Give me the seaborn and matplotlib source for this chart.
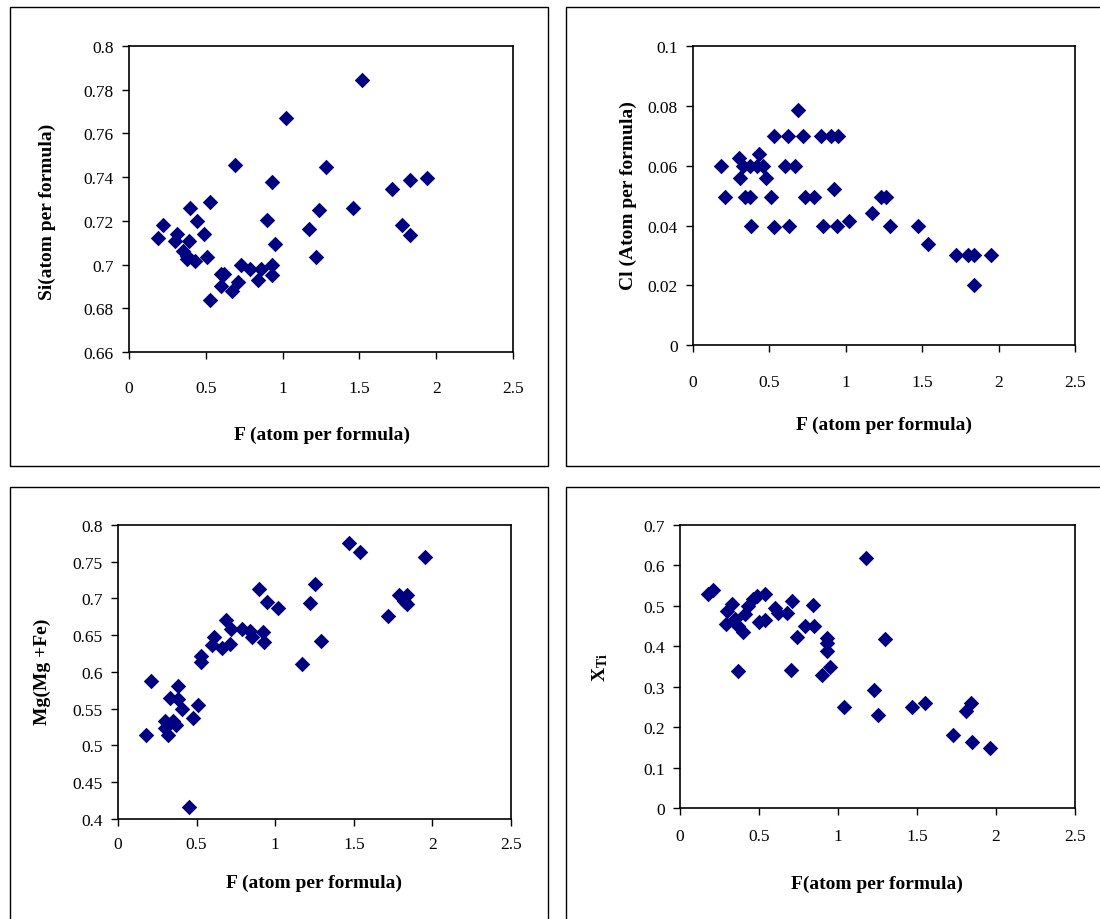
import matplotlib
matplotlib.use("Agg")
import matplotlib.pyplot as plt
from matplotlib.patches import Rectangle
import seaborn as sns
import pandas as pd

# F content vs Si (atoms per formula unit)
f_si = [0.19, 0.22, 0.40, 0.53, 0.44, 0.49, 0.31, 0.30, 0.39, 0.35, 0.38, 0.43, 0.38,
        0.51, 0.62, 0.60, 0.60, 0.53, 0.67, 0.71, 0.73, 0.79, 0.84, 0.86, 0.93, 0.93,
        0.90, 0.95, 1.17, 1.22, 1.24, 1.02, 0.69, 0.93, 1.28, 1.52, 1.46, 1.71, 1.83,
        1.94, 1.78, 1.83]
si = [0.712, 0.718, 0.726, 0.7285, 0.720, 0.714, 0.714, 0.711, 0.711, 0.706, 0.7026,
      0.7018, 0.704, 0.7033, 0.6957, 0.6957, 0.690, 0.684, 0.688, 0.692, 0.700, 0.698,
      0.693, 0.698, 0.700, 0.6954, 0.7205, 0.7094, 0.7163, 0.7033, 0.725, 0.767, 0.7456,
      0.7378, 0.7448, 0.7843, 0.7259, 0.7346, 0.7388, 0.7397, 0.7182, 0.7137]

# F content vs Cl
f_cl = [0.69, 0.53, 0.62, 0.72, 0.84, 0.90, 0.95, 0.43, 0.30, 0.18, 0.33, 0.37, 0.42,
        0.46, 0.60, 0.67, 0.31, 0.48, 0.92, 0.21, 0.34, 0.37, 0.51, 0.73, 0.79, 1.23,
        1.26, 1.17, 0.38, 0.53, 0.63, 0.85, 0.94, 1.02, 1.29, 1.47, 1.54, 1.72, 1.80,
        1.84, 1.95, 1.84]
cl = [0.0787, 0.070, 0.070, 0.070, 0.070, 0.070, 0.070, 0.064, 0.0626, 0.060, 0.060,
      0.060, 0.060, 0.060, 0.060, 0.060, 0.056, 0.056, 0.0522, 0.0495, 0.0495, 0.0495,
      0.0495, 0.0495, 0.0495, 0.0495, 0.0495, 0.0441, 0.040, 0.0394, 0.040, 0.040,
      0.040, 0.0414, 0.040, 0.040, 0.0339, 0.030, 0.030, 0.030, 0.030, 0.020]

# F content vs Mg/(Mg+Fe)
f_mg = [0.90, 0.95, 1.02, 1.25, 1.22, 0.69, 0.72, 0.79, 0.84, 0.85, 0.92, 0.93, 0.61,
        0.60, 0.66, 0.71, 0.53, 0.53, 1.17, 0.21, 0.38, 0.33, 0.38, 0.51, 0.41, 0.48,
        0.30, 0.35, 0.37, 0.30, 0.32, 0.18, 0.45, 1.47, 1.54, 1.95, 1.79, 1.84, 1.84,
        1.82, 1.72, 1.29]
mg = [0.713, 0.695, 0.687, 0.720, 0.694, 0.670, 0.658, 0.658, 0.656, 0.647, 0.654,
      0.641, 0.647, 0.636, 0.633, 0.638, 0.622, 0.613, 0.610, 0.588, 0.580, 0.564,
      0.563, 0.555, 0.549, 0.537, 0.533, 0.533, 0.528, 0.524, 0.514, 0.514, 0.416,
      0.776, 0.763, 0.757, 0.704, 0.705, 0.692, 0.697, 0.676, 0.642]

# F content vs X_Ti
f_ti = [1.18, 0.18, 0.21, 0.33, 0.30, 0.29, 0.35, 0.37, 0.40, 0.43, 0.46, 0.49, 0.54,
        0.41, 0.50, 0.54, 0.60, 0.62, 0.68, 0.71, 0.79, 0.85, 0.84, 0.74, 0.93, 0.93,
        0.93, 0.37, 0.70, 0.95, 0.90, 1.04, 1.23, 1.25, 1.30, 1.47, 1.55, 1.84, 1.81,
        1.73, 1.85, 1.96]
xti = [0.618, 0.529, 0.539, 0.504, 0.488, 0.455, 0.467, 0.451, 0.434, 0.500, 0.517,
       0.523, 0.529, 0.480, 0.459, 0.466, 0.494, 0.482, 0.481, 0.511, 0.451, 0.449,
       0.501, 0.424, 0.420, 0.408, 0.389, 0.338, 0.342, 0.348, 0.330, 0.251, 0.293,
       0.231, 0.418, 0.251, 0.260, 0.260, 0.239, 0.181, 0.163, 0.148]

x_ticks = [0, 0.5, 1, 1.5, 2, 2.5]

sns.set_theme(style="white")
plt.rcParams["font.family"] = ["Liberation Serif", "DejaVu Serif"]
plt.rcParams["mathtext.fontset"] = "custom"
plt.rcParams["mathtext.rm"] = "Liberation Serif"
plt.rcParams["mathtext.bf"] = "Liberation Serif:bold"

fig = plt.figure(figsize=(11, 9.2), dpi=100)

# Panel frames
for (x0, y0, w, h) in [(10, 8, 538, 459), (566, 8, 600, 459),
                       (10, 488, 538, 500), (566, 488, 600, 500)]:
    fig.patches.append(Rectangle((x0 / 1100, 1 - (y0 + h) / 920), w / 1100, h / 920,
                                 transform=fig.transFigure, fill=False,
                                 edgecolor="black", linewidth=1.0, zorder=0))

panels = [
    dict(rect=[129 / 1100, 1 - 353 / 920, 384 / 1100, 306 / 920], x=f_si, y=si,
         ylim=(0.66, 0.8), yticks=[0.66, 0.68, 0.7, 0.72, 0.74, 0.76, 0.78, 0.8],
         xlabel="F (atom per formula)", ylabel="Si(atom per formula)",
         xl=(0.503, -0.268), yl=(-0.2135, 0.461), xpad=15),
    dict(rect=[693 / 1100, 1 - 346 / 920, 382 / 1100, 298.7 / 920], x=f_cl, y=cl,
         ylim=(0, 0.1), yticks=[0, 0.02, 0.04, 0.06, 0.08, 0.1],
         xlabel="F (atom per formula)", ylabel="Cl (Atom per formula)",
         xl=(0.5, -0.264), yl=(-0.170, 0.505), xpad=16),
    dict(rect=[118 / 1100, 1 - 819.6 / 920, 393 / 1100, 293.6 / 920], x=f_mg, y=mg,
         ylim=(0.4, 0.8), yticks=[0.4, 0.45, 0.5, 0.55, 0.6, 0.65, 0.7, 0.75, 0.8],
         xlabel="F (atom per formula)", ylabel="Mg(Mg +Fe)",
         xl=(0.5, -0.216), yl=(-0.193, 0.503), xpad=7.5),
    dict(rect=[680 / 1100, 1 - 809.3 / 920, 395 / 1100, 283.6 / 920], x=f_ti, y=xti,
         ylim=(0, 0.7), yticks=[0, 0.1, 0.2, 0.3, 0.4, 0.5, 0.6, 0.7],
         xlabel="F(atom per formula)", ylabel=r"$\mathbf{X_{Ti}}$",
         xl=(0.499, -0.263), yl=(-0.203, 0.498), xpad=9),
]

for p in panels:
    ax = fig.add_axes(p["rect"])
    df = pd.DataFrame({"F": p["x"], "v": p["y"]})
    sns.scatterplot(data=df, x="F", y="v", ax=ax, marker="D", color="#000080",
                    s=62, linewidth=0, zorder=3, clip_on=False)
    ax.set_xlim(0, 2.5)
    ax.set_ylim(*p["ylim"])
    ax.set_xticks(x_ticks)
    ax.set_xticklabels([f"{t:g}" for t in x_ticks])
    ax.set_yticks(p["yticks"])
    ax.set_yticklabels([f"{t:g}" for t in p["yticks"]])
    ax.tick_params(axis="both", direction="out", length=5, width=1, color="black",
                   labelsize=12.5, labelcolor="black", pad=6,
                   bottom=True, left=True)
    ax.tick_params(axis="x", pad=p["xpad"])
    for sp in ax.spines.values():
        sp.set_visible(True)
        sp.set_color("black")
        sp.set_linewidth(1.2)
    ax.set_xlabel(p["xlabel"], fontsize=14, fontweight="bold", color="black")
    ax.set_ylabel(p["ylabel"], fontsize=14, fontweight="bold", color="black")
    ax.xaxis.set_label_coords(*p["xl"])
    ax.yaxis.set_label_coords(*p["yl"])
    ax.xaxis.label.set_va("center")
    ax.yaxis.label.set_va("center")
    ax.grid(False)

fig.savefig("out.png", dpi=100, facecolor="white")
